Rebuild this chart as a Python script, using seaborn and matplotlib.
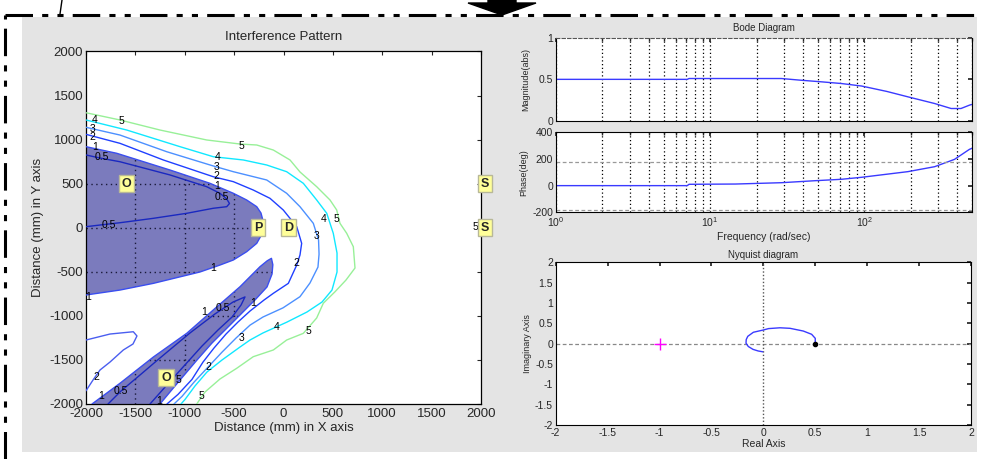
import matplotlib
matplotlib.use("Agg")
import matplotlib.pyplot as plt
import numpy as np
import pandas as pd
import seaborn as sns
from matplotlib.patches import Rectangle, Polygon
from matplotlib.lines import Line2D
from matplotlib.ticker import LogLocator, FixedLocator, NullFormatter

# ------------------------------------------------------------------ data
# Interference pattern: contour paths (mm)
c5_x = [-2000, -1656, -1251, -778, -440, -271, -103, 66, 167, 336, 471, 539, 572, 640, 707, 724, 633, 522, 403, 336, 201, 32, -103, -306, -474, -643, -795, -879]
c5_y = [1305, 1223, 1109, 996, 950, 939, 882, 769, 633, 466, 315, 201, 50, -63, -215, -457, -593, -726, -857, -1024, -1198, -1274, -1387, -1463, -1595, -1716, -1864, -2000]

c4_x = [-2000, -1588, -1048, -711, -407, -170, 32, 201, 336, 438, 504, 542, 542, 491, 390, 238, 36, -208, -339, -440, -623, -775, -896, -997, -1038]
c4_y = [1223, 1109, 920, 806, 769, 712, 636, 504, 315, 164, -63, -287, -502, -707, -843, -956, -1070, -1194, -1274, -1353, -1501, -1637, -1795, -1948, -2000]

c3_x = [-2000, -1656, -1183, -711, -508, -170, 32, 167, 302, 355, 360, 349, 268, 167, -5, -208, -339, -481, -623, -765, -906, -1028, -1109]
c3_y = [1140, 1052, 863, 701, 636, 542, 391, 239, 50, -139, -300, -446, -627, -782, -909, -1013, -1105, -1252, -1412, -1582, -1752, -1914, -2000]

c2_x = [-2000, -1656, -1217, -711, -508, -306, -137, -2, 134, 184, 167, 134, 49, -103, -197, -339, -461, -582, -704, -815, -927, -1068, -1180]
c2_y = [1060, 958, 769, 579, 523, 428, 334, 201, 12, -177, -309, -423, -631, -744, -820, -945, -1070, -1206, -1365, -1524, -1721, -1891, -2000]

c2b_x = [-2000, -1757, -1521, -1484, -1524, -1622, -1757, -1858, -1929, -2000]
c2b_y = [-1274, -1206, -1180, -1228, -1319, -1387, -1524, -1614, -1728, -1850]

c1a_x = [-2000, -1689, -1149, -744, -508, -373, -271, -228, -204, -207, -271, -373, -508, -643, -846, -1318, -1656, -2000]
c1a_y = [920, 845, 655, 504, 391, 315, 239, 167, 65, -49, -177, -272, -366, -423, -502, -631, -707, -763]

c1b_x = [-1939, -1656, -1318, -980, -711, -440, -238, -165, -122, -108, -116, -167, -289, -420, -572, -724, -876, -1048, -1251]
c1b_y = [-2000, -1765, -1467, -1198, -933, -669, -442, -375, -347, -420, -525, -672, -820, -967, -1138, -1308, -1501, -1728, -2000]

c05a_x = [-2000, -1858, -1656, -1149, -778, -643, -575, -547, -575, -711, -980, -1318, -1656, -1858, -2000]
c05a_y = [826, 791, 749, 599, 466, 391, 327, 275, 239, 221, 164, 107, 57, 31, 12]

c05b_x = [-1777, -1646, -1453, -1251, -947, -694, -511, -390, -430, -521, -663, -825, -1008, -1190, -1352]
c05b_y = [-2000, -1853, -1671, -1478, -1194, -978, -843, -785, -877, -1013, -1160, -1342, -1569, -1796, -2000]

# contour labels (as visible in the picture)
lab_text = ["5", "4", "3", "2", "1", "0.5",
            "5", "4", "3", "2", "1", "0.5", "0.5",
            "4", "5", "3", "2", "1", "1",
            "2", "1", "0.5", "5", "1", "5", "2", "3", "4", "5", "1", "0.5", "1", "5"]
lab_x = [-1638, -1915, -1932, -1932, -1909, -1841,
         -430, -670, -676, -676, -670, -626, -1774,
         410, 539, 336, 134, -711, -1977,
         -1892, -1848, -1646, -1060, -1258, -828, -760, -423, -69, 251, -802, -610, -306, 1945]
lab_y = [1211, 1225, 1122, 1026, 913, 799,
         928, 799, 693, 587, 477, 352, 31,
         96, 96, -94, -404, -460, -782,
         -1690, -1906, -1853, -1728, -1965, -1906, -1580, -1255, -1130, -1172, -960, -914, -857, 9]

# source / probe markers
mark_text = ["O", "P", "D", "O", "S", "S"]
mark_x = [-1590, -255, 50, -1190, 2040, 2040]
mark_y = [500, 0, 0, -1700, 500, 0]

ip_ticks = [-2000, -1500, -1000, -500, 0, 500, 1000, 1500, 2000]

# Bode diagram
mag_freq = [1, 4, 7.1, 7.3, 15, 29, 38.5, 53, 71, 96, 140, 192, 286, 366, 424, 481, 500]
mag_val = [0.5, 0.5, 0.5, 0.51, 0.51, 0.51, 0.49, 0.47, 0.45, 0.42, 0.355, 0.29, 0.21, 0.15, 0.15, 0.19, 0.2]
ph_freq = [1, 4, 7.1, 7.3, 14.6, 29, 48, 71, 96, 192, 286, 385, 481, 500]
ph_val = [0, 0, 0, 10, 12, 22, 37, 47.5, 62.5, 105, 142, 197, 272, 280]

# Nyquist diagram
nyq_re = [0.5, 0.5, 0.465, 0.385, 0.257, 0.16, 0.05, 0.0, -0.096, -0.15, -0.165, -0.167, -0.145, -0.1, -0.05, -0.006]
nyq_im = [0.01, 0.13, 0.23, 0.31, 0.377, 0.39, 0.37, 0.336, 0.28, 0.18, 0.1, 0.01, -0.07, -0.14, -0.18, -0.2]
nyq_ticks = [-2, -1.5, -1, -0.5, 0, 0.5, 1, 1.5, 2]
nyq_ticklabels = ["-2", "-1.5", "-1", "-0.5", "0", "0.5", "1", "1.5", "2"]

# ------------------------------------------------------------------ style
sns.set_theme(style="white")
plt.rcParams["font.family"] = ["Liberation Sans", "DejaVu Sans"]
plt.rcParams["xtick.direction"] = "in"
plt.rcParams["ytick.direction"] = "in"
plt.rcParams["axes.edgecolor"] = "black"
plt.rcParams["axes.linewidth"] = 0.8

W, H = 982, 459
fig = plt.figure(figsize=(W / 100, H / 100), dpi=100, facecolor="white")

# gray panel + page decorations
fig.add_artist(Rectangle((22 / W, 1 - 452 / H), (977 - 22) / W, (452 - 17) / H,
                         transform=fig.transFigure, facecolor="#e4e4e4", edgecolor="none", zorder=0))
fig.add_artist(Line2D([5 / W, 1.0], [1 - 15 / H, 1 - 15 / H], transform=fig.transFigure,
                      color="black", lw=2.2, dashes=[9, 3, 2, 3, 2, 3]))
fig.add_artist(Line2D([5 / W, 5 / W], [0, 1 - 15 / H], transform=fig.transFigure,
                      color="black", lw=2.2, dashes=[9, 3, 2, 3, 2, 3]))
fig.add_artist(Line2D([62 / W, 60 / W], [1.0, 1 - 14 / H], transform=fig.transFigure, color="black", lw=1))
arrow_px = [(488, 0), (516, 0), (516, 3), (536, 3), (502, 15), (468, 3), (488, 3)]
fig.add_artist(Polygon([(x / W, 1 - y / H) for x, y in arrow_px], closed=True,
                       transform=fig.transFigure, facecolor="black", edgecolor="black"))

# ------------------------------------------------------------------ interference pattern
ax = fig.add_axes([86 / W, 55 / H, 395 / W, 352.5 / H])
ax.set_facecolor("white")
ax.set_xlim(-2000, 2000)
ax.set_ylim(-2000, 2000)

fill_col = "#7b7bbd"
pa = ax.fill(c1a_x, c1a_y, color=fill_col, lw=0, zorder=1)[0]
pb = ax.fill(c1b_x, c1b_y, color=fill_col, lw=0, zorder=1)[0]
for poly in (pa, pb):
    for t in ip_ticks[1:-1]:
        l1, = ax.plot([t, t], [-2000, 2000], ls=(0, (1, 2.5)), color="#1a1a3a", lw=1, zorder=2)
        l2, = ax.plot([-2000, 2000], [t, t], ls=(0, (1, 2.5)), color="#1a1a3a", lw=1, zorder=2)
        l1.set_clip_path(poly)
        l2.set_clip_path(poly)

lines = [
    (c5_x, c5_y, "#98f098"),
    (c4_x, c4_y, "#10e8ff"),
    (c3_x, c3_y, "#4c90ff"),
    (c2_x, c2_y, "#2040ff"),
    (c2b_x, c2b_y, "#4a5ef0"),
    (c1a_x, c1a_y, "#3a4ef0"),
    (c1b_x, c1b_y, "#3a4ef0"),
    (c05a_x, c05a_y, "#1a28c0"),
    (c05b_x, c05b_y, "#1a28c0"),
]
for xs, ys, col in lines:
    sns.lineplot(x=xs, y=ys, ax=ax, color=col, lw=1.0, sort=False, estimator=None, zorder=3)

for s, x, y in zip(lab_text, lab_x, lab_y):
    ax.text(x, y, s, fontsize=7.5, ha="center", va="center", color="black", zorder=4, clip_on=False)

for s, x, y in zip(mark_text, mark_x, mark_y):
    ax.text(x, y, s, fontsize=9, fontweight="bold", ha="center", va="center", zorder=6, clip_on=False,
            bbox=dict(boxstyle="square,pad=0.22", facecolor="#ffff99", edgecolor="#b8b898", lw=1))

ax.set_xticks(ip_ticks)
ax.set_yticks(ip_ticks)
ax.set_xticklabels([str(t) for t in ip_ticks])
ax.set_yticklabels([str(t) for t in ip_ticks])
ax.tick_params(labelsize=9.5, length=3, width=0.8, top=True, right=True)
ax.tick_params(axis="x", pad=3)
ax.tick_params(axis="y", pad=2)
ax.set_title("Interference Pattern", fontsize=9.5, pad=8)
ax.set_xlabel("Distance (mm) in X axis", fontsize=9.5, labelpad=1)
ax.set_ylabel("Distance (mm) in Y axis", fontsize=9.5, labelpad=4)
for sp in ax.spines.values():
    sp.set_visible(True)
    sp.set_color("black")
    sp.set_linewidth(0.9)

# ------------------------------------------------------------------ Bode magnitude
small = 7.5
axm = fig.add_axes([556 / W, 1 - 121 / H, 416 / W, 83.3 / H])
axm.set_facecolor("white")
axm.set_xscale("log")
sns.lineplot(x=mag_freq, y=mag_val, ax=axm, color="#3a3aff", lw=1, sort=False, estimator=None)
axm.set_xlim(1, 500)
axm.set_ylim(0, 1)
axm.set_yticks([0, 0.5, 1])
axm.set_yticklabels(["0", "0.5", "1"])
axm.xaxis.set_major_locator(LogLocator(base=10))
axm.xaxis.set_minor_locator(LogLocator(base=10, subs=np.arange(2, 10)))
axm.xaxis.set_major_formatter(NullFormatter())
axm.xaxis.set_minor_formatter(NullFormatter())
axm.grid(True, axis="x", which="both", ls=(0, (1, 2)), color="black", lw=0.9)
axm.tick_params(labelsize=small, length=3, top=True, right=True, which="both", pad=2)
axm.tick_params(which="minor", length=2)
axm.set_title("Bode Diagram", fontsize=7, pad=5)
axm.set_ylabel("Magnitude(abs)", fontsize=6.5, labelpad=6)
axm.spines["top"].set_linestyle((0, (3, 2)))
axm.spines["top"].set_color("#555555")

# ------------------------------------------------------------------ Bode phase
axp = fig.add_axes([556 / W, 1 - 212.3 / H, 416 / W, 80 / H])
axp.set_facecolor("white")
axp.set_xscale("log")
sns.lineplot(x=ph_freq, y=ph_val, ax=axp, color="#3a3aff", lw=1, sort=False, estimator=None)
axp.set_xlim(1, 500)
axp.set_ylim(-200, 400)
axp.set_yticks([-200, 0, 200, 400])
axp.set_yticklabels(["-200", "0", "200", "400"])
axp.xaxis.set_major_locator(LogLocator(base=10))
axp.xaxis.set_minor_locator(LogLocator(base=10, subs=np.arange(2, 10)))
axp.xaxis.set_minor_formatter(NullFormatter())
axp.grid(True, axis="x", which="both", ls=(0, (1, 2)), color="black", lw=0.9)
axp.axhline(180, color="#999999", ls=(0, (3, 2)), lw=0.9)
axp.axhline(-180, color="#999999", ls=(0, (3, 2)), lw=0.9)
axp.tick_params(labelsize=small, length=3, top=True, right=True, which="both", pad=2)
axp.tick_params(which="minor", length=2)
axp.set_xlabel("Frequency (rad/sec)", fontsize=small, labelpad=2)
axp.set_ylabel("Phase(deg)", fontsize=6.5, labelpad=3)

# ------------------------------------------------------------------ Nyquist
axn = fig.add_axes([555.7 / W, 34 / H, 415.3 / W, 162.7 / H])
axn.set_facecolor("white")
axn.axhline(0, color="#888888", ls=(0, (3, 2)), lw=0.9)
axn.axvline(0, color="#555555", ls=(0, (1, 1.5)), lw=1)
sns.lineplot(x=nyq_re, y=nyq_im, ax=axn, color="#3a3aff", lw=1, sort=False, estimator=None)
axn.plot([nyq_re[0]], [0], marker="o", color="black", ms=3)
axn.plot([-1], [0], marker="+", color="#ff00ff", ms=8, mew=1)
axn.set_xlim(-2, 2)
axn.set_ylim(-2, 2)
axn.xaxis.set_major_locator(FixedLocator(nyq_ticks))
axn.yaxis.set_major_locator(FixedLocator(nyq_ticks))
axn.set_xticklabels(nyq_ticklabels)
axn.set_yticklabels(nyq_ticklabels)
axn.tick_params(labelsize=small, length=3, top=True, right=True, pad=2)
axn.set_title("Nyquist diagram", fontsize=7, pad=3)
axn.set_xlabel("Real Axis", fontsize=small, labelpad=1)
axn.set_ylabel("Imaginary Axis", fontsize=6.5, labelpad=2)

for a in (axm, axp, axn):
    for sp in a.spines.values():
        sp.set_visible(True)
        sp.set_linewidth(0.8)

fig.savefig("out.png", dpi=100, facecolor="white")
